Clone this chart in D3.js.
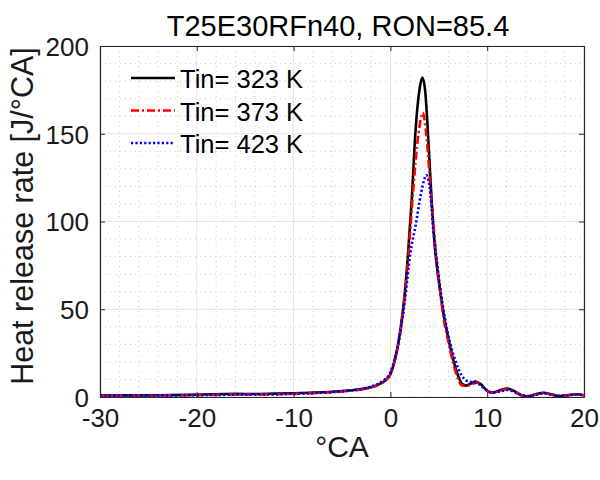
<!DOCTYPE html>
<html><head><meta charset="utf-8">
<script src="https://cdn.jsdelivr.net/npm/d3@7"></script>
<style>body{margin:0;background:#fff}text{font-family:"Liberation Sans",Arial,sans-serif}</style>
</head><body>
<svg id="c" width="600" height="480"></svg>
<script>
const title = "T25E30RFn40, RON=85.4";
const xLabel = "°CA";
const yLabel = "Heat release rate [J/°CA]";
const xTicks = [-30, -20, -10, 0, 10, 20];
const yTicks = [0, 50, 100, 150, 200];
const seriesNames = ["Tin= 323 K", "Tin= 373 K", "Tin= 423 K"];

const x323 = [-30,-27,-24,-21,-18,-16,-14,-12,-10,-8,-6,-4,-3,-2,-1,-0.5,0,0.5,1.0,1.5,1.8,2.2,2.6,3.0,3.3,3.6,3.8,4.2,4.6,5.0,5.5,6.0,6.5,7.0,7.4,7.8,8.3,8.8,9.3,10.0,10.6,11.3,12.1,12.9,13.6,14.2,15.0,15.8,16.6,17.4,18.3,19.2,20];
const y323 = [0.8,0.9,1.0,1.2,1.6,1.8,1.7,1.9,2.1,2.5,3.0,3.8,4.5,5.6,7.8,9.5,13,22,37,60,80,112,152,175,182,174,158,118,85,66,47,33,21,12,7.5,6.5,7.6,8.8,7.5,3.5,2.5,3.8,4.8,3.0,0.8,0.3,1.5,2.4,1.5,0.5,1.0,1.6,1.0];

const x373 = [-30,-27,-24,-21,-18,-16,-14,-12,-10,-8,-6,-4,-3,-2,-1,-0.5,0,0.5,1.0,1.5,1.85,2.3,2.9,3.35,3.7,4.2,4.7,5.1,5.5,6.0,6.5,7.0,7.4,7.8,8.4,8.9,9.4,10.0,10.6,11.3,12.1,12.9,13.6,14.2,15.0,15.8,16.6,17.4,18.3,19.2,20];
const y373 = [0.7,0.8,0.9,1.0,1.2,1.4,1.4,1.6,1.8,2.2,2.8,3.6,4.3,5.4,7.6,9.4,13,22,36,58,80,114,150,162,150,115,82,62,45,31,19,10,6.5,6.3,7.3,8.2,7.0,3.5,2.5,3.6,4.5,2.8,0.8,0.4,1.4,2.2,1.4,0.6,1.0,1.5,1.0];

const x423 = [-30,-27,-24,-21,-18,-16,-14,-12,-10,-8,-6,-4,-3,-2,-1,-0.5,0,0.5,1.0,1.5,2.06,2.58,3.16,3.45,3.7,3.95,4.15,4.4,4.7,5.1,5.6,6.2,6.7,7.1,7.6,8.1,8.6,9.2,9.8,10.5,11.3,12.1,12.9,13.7,14.3,15.1,15.8,16.6,17.4,18.3,19.2,20];
const y423 = [0.9,0.9,0.9,1.0,1.2,1.3,1.4,1.5,1.8,2.2,2.8,3.8,4.6,5.9,8.3,10.3,14,23,36,55,82,97,116,123,126.5,123,115,97,82,64,46,30,21,15,10.5,8.8,8.4,7.2,4.5,2.6,3.2,4.0,2.6,0.9,0.6,1.4,2.0,1.4,0.7,1.0,1.4,1.1];

const svg = d3.select("#c");
const L = 100, R = 584, T = 46, B = 397;
const xs = d3.scaleLinear().domain([-30, 20]).range([L, R]);
const ys = d3.scaleLinear().domain([0, 200]).range([B, T]);
const axisCol = "#262626";

// minor grid
const g = svg.append("g");
g.selectAll(".mx").data(d3.range(-30, 20.01, 2).filter(v => v % 10 !== 0)).join("line")
  .attr("x1", d => xs(d)).attr("x2", d => xs(d)).attr("y1", T).attr("y2", B)
  .attr("stroke", "#cccccc").attr("stroke-width", 1).attr("stroke-dasharray", "1,4");
g.selectAll(".my").data(d3.range(0, 200.01, 10).filter(v => v % 50 !== 0)).join("line")
  .attr("y1", d => ys(d)).attr("y2", d => ys(d)).attr("x1", L).attr("x2", R)
  .attr("stroke", "#cccccc").attr("stroke-width", 1).attr("stroke-dasharray", "1,4");
// major grid
g.selectAll(".gx").data(xTicks).join("line")
  .attr("x1", d => xs(d)).attr("x2", d => xs(d)).attr("y1", T).attr("y2", B)
  .attr("stroke", "#e3e3e3").attr("stroke-width", 1);
g.selectAll(".gy").data(yTicks).join("line")
  .attr("y1", d => ys(d)).attr("y2", d => ys(d)).attr("x1", L).attr("x2", R)
  .attr("stroke", "#e3e3e3").attr("stroke-width", 1);

// lines
const mk = (xa, ya) => xa.map((v, i) => [v, ya[i]]);
const line = d3.line().x(d => xs(d[0])).y(d => ys(d[1])).curve(d3.curveMonotoneX);
const series = [
  {name: seriesNames[0], data: mk(x323, y323), color: "#000000", dash: null, w: 2.6},
  {name: seriesNames[1], data: mk(x373, y373), color: "#ff0000", dash: "8,3,2,3", w: 2.6},
  {name: seriesNames[2], data: mk(x423, y423), color: "#0000ff", dash: "2.2,2.2", w: 2.6}
];
svg.append("clipPath").attr("id", "cp").append("rect")
  .attr("x", L).attr("y", T - 2).attr("width", R - L).attr("height", B - T + 2);
const lg = svg.append("g").attr("clip-path", "url(#cp)");
series.forEach(s => {
  lg.append("path").attr("d", line(s.data)).attr("fill", "none")
    .attr("stroke", s.color).attr("stroke-width", s.w)
    .attr("stroke-dasharray", s.dash).attr("stroke-linejoin", "round");
});

// axes
const fs = 26;
const fmt = d => String(d);
const xa = svg.append("g").attr("transform", `translate(0,${B})`)
  .call(d3.axisBottom(xs).tickValues(xTicks).tickFormat(fmt).tickSizeInner(-5).tickSizeOuter(0).tickPadding(12));
const xt = svg.append("g").attr("transform", `translate(0,${T})`)
  .call(d3.axisTop(xs).tickValues(xTicks).tickSizeInner(-5).tickSizeOuter(0).tickFormat(""));
const ya = svg.append("g").attr("transform", `translate(${L},0)`)
  .call(d3.axisLeft(ys).tickValues(yTicks).tickFormat(fmt).tickSizeInner(-5).tickSizeOuter(0).tickPadding(11));
const yr = svg.append("g").attr("transform", `translate(${R},0)`)
  .call(d3.axisRight(ys).tickValues(yTicks).tickSizeInner(-5).tickSizeOuter(0).tickFormat(""));
[xa, xt, ya, yr].forEach(a => {
  a.select(".domain").attr("stroke", axisCol).attr("stroke-width", 1.2);
  a.selectAll(".tick line").attr("stroke", axisCol).attr("stroke-width", 1);
  a.selectAll(".tick text").attr("fill", "#1a1a1a").style("font-size", fs + "px")
    .style("font-family", '"Liberation Sans",Arial,sans-serif');
});
xa.selectAll(".tick text").attr("dy", "0.71em");
ya.selectAll(".tick text").attr("dy", "0.36em");

// labels
svg.append("text").attr("x", 338).attr("y", 36).attr("text-anchor", "middle")
  .style("font-size", "29px").attr("fill", "#000").text(title);
svg.append("text").attr("x", xs(-5)).attr("y", 457).attr("text-anchor", "middle")
  .style("font-size", "30px").attr("fill", "#1a1a1a").text(xLabel);
svg.append("text").attr("transform", `translate(33,216) rotate(-90)`)
  .attr("text-anchor", "middle").style("font-size", "30.5px").attr("fill", "#1a1a1a").text(yLabel);

// legend
const leg = svg.append("g");
series.forEach((s, i) => {
  const yy = 78 + i * 32.5;
  leg.append("line").attr("x1", 131).attr("x2", 175).attr("y1", yy).attr("y2", yy)
    .attr("stroke", s.color).attr("stroke-width", s.w).attr("stroke-dasharray", s.dash);
  leg.append("text").attr("x", 180).attr("y", yy + 10).style("font-size", "25.5px")
    .attr("fill", "#000").text(s.name);
});
</script>
</body></html>
